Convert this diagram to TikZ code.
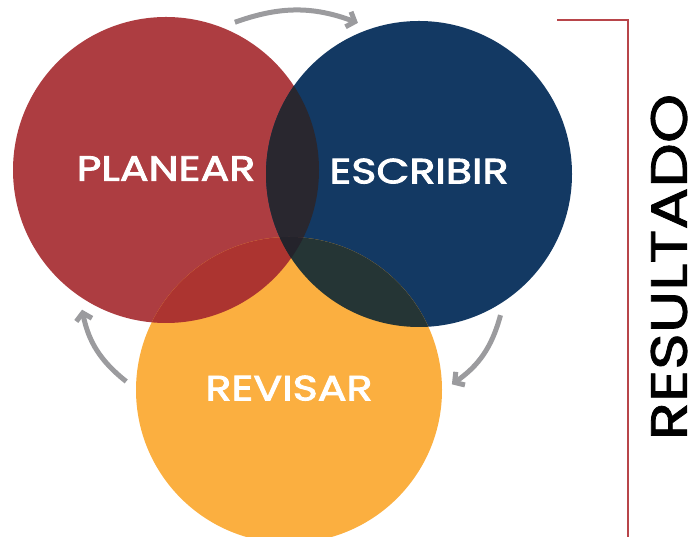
\documentclass[tikz,border=0pt]{standalone}
\usepackage{fontspec}
\setmainfont{Poppins}
\newfontfamily\etiqueta{Poppins}[FakeStretch=1.22, FakeBold=2.6]
\newfontfamily\titulo{Poppins}[FakeStretch=1.23, FakeBold=1.6]
\usetikzlibrary{arrows.meta,calc,positioning}

\definecolor{rojo}{HTML}{AD3D41}
\definecolor{azul}{HTML}{133963}
\definecolor{naranja}{HTML}{FBAF40}
\definecolor{rojoazul}{HTML}{29272F}
\definecolor{rojonaranja}{HTML}{AC3430}
\definecolor{azulnaranja}{HTML}{253535}
\definecolor{centro}{HTML}{24232B}
\definecolor{flecha}{HTML}{9B9B9E}
\definecolor{linea}{HTML}{B8454A}

\begin{document}
\begin{tikzpicture}[x=1pt,y=1pt,
        kreis/.style={circle, minimum size=306pt, inner sep=0pt, outer sep=10pt,
            text=white, font=\etiqueta\fontsize{35}{35}\selectfont},
        pfeil/.style={flecha, line width=5pt, -{Straight Barb[length=7pt,width=16pt]}, bend left=20}]
            \useasboundingbox (0,0) rectangle (693,537);

            % Die drei Kreise
            \node[kreis, fill=rojo] (planear) at (166,367) {\raisebox{3pt}{PLANEAR}};
            \node[kreis, fill=azul] (escribir) at (419,363) {\raisebox{6pt}{ESCRIBIR}};
            \node[kreis, fill=naranja] (revisar) at (289,147) {\raisebox{4pt}{REVISAR}};

            % Schnittflaechen
            \begin{scope}
                \clip (planear.center) circle (153);
                \fill[rojoazul] (escribir.center) circle (153);
                \fill[rojonaranja] (revisar.center) circle (153);
            \end{scope}
            \begin{scope}
                \clip (escribir.center) circle (153);
                \fill[azulnaranja] (revisar.center) circle (153);
            \end{scope}
            \begin{scope}
                \clip (planear.center) circle (153);
                \clip (escribir.center) circle (153);
                \fill[centro] (revisar.center) circle (153);
            \end{scope}

            % Pfeile im Kreis
            \draw[pfeil] (planear.65) to (escribir.112);
            \draw[pfeil] (escribir.300) to (revisar.2);
            \draw[pfeil] (revisar.177) to (planear.239);

            % Linie rechts
            \coordinate (l0) at (557,517);
            \coordinate (l1) at (628,517);
            \coordinate (l2) at (628,0);
            \draw[linea, line width=2pt] (l0) -- (l1) -- (l2);

            \node[rotate=90, inner sep=0pt, font=\titulo\fontsize{51}{51}\selectfont] (resultado) at (669,270) {RESULTADO};
        \end{tikzpicture}
\end{document}
